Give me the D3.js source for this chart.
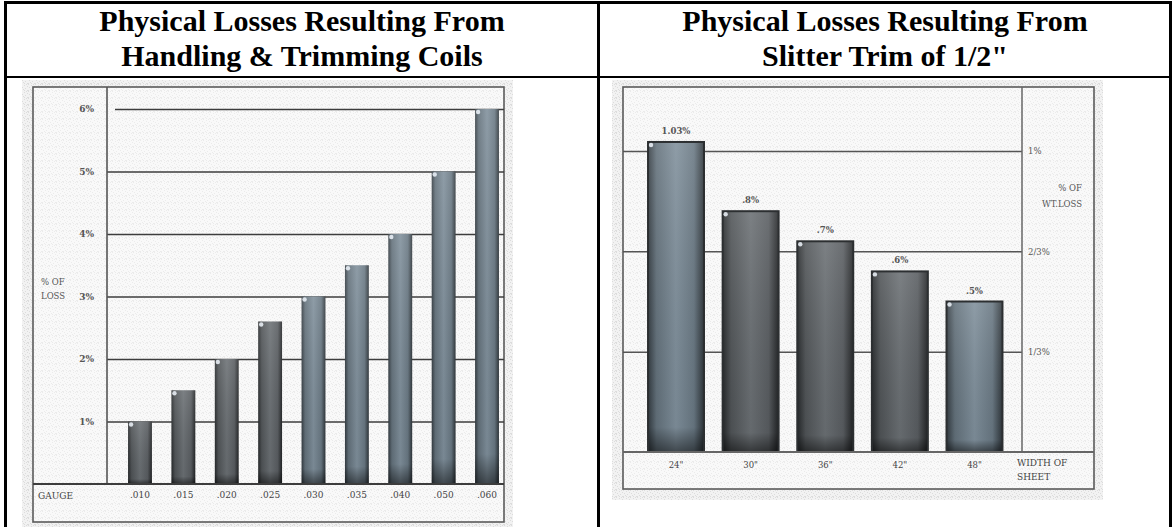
<!DOCTYPE html>
<html><head><meta charset="utf-8">
<script src="https://cdn.jsdelivr.net/npm/d3@7"></script>
<style>body{margin:0;background:#fff} svg{display:block}</style>
</head><body><svg id="c" width="1174" height="527"></svg>
<script>
// Handling & trimming coils: loss by gauge
const gauges = [".010", ".015", ".020", ".025", ".030", ".035", ".040", ".050", ".060"];
const gaugeLoss = [1, 1.5, 2, 2.6, 3, 3.5, 4, 5, 6];
const gaugeTicks = [1, 2, 3, 4, 5, 6];

// Slitter trim of 1/2": loss by sheet width
const widths = ['24"', '30"', '36"', '42"', '48"'];
const slitLoss = [1.03, 0.8, 0.7, 0.6, 0.5];
const slitLabels = ["1.03%", ".8%", ".7%", ".6%", ".5%"];
const slitTicks = [1 / 3, 2 / 3, 1];
const slitTickLabels = ["1/3%", "2/3%", "1%"];

// bar finish (steel grey or blue-grey)
const gaugeTone = ["g", "g", "g", "g", "b", "b", "b", "b", "b"];
const slitTone = ["b", "g", "g", "g", "b"];

const svg = d3.select("#c");
const defs = svg.append("defs");

// speckled paper texture
const speckle = [[0, 0], [3, 1], [5, 0], [1, 3], [4, 4], [2, 5], [6, 2], [6, 6], [0, 6], [3, 6]];
function dither(id, base, dot) {
  const p = defs.append("pattern").attr("id", id).attr("width", 7).attr("height", 7)
    .attr("patternUnits", "userSpaceOnUse");
  p.append("rect").attr("width", 7).attr("height", 7).attr("fill", base);
  speckle.forEach(([x, y]) =>
    p.append("rect").attr("x", x).attr("y", y).attr("width", 1).attr("height", 1).attr("fill", dot));
}
dither("outer", "#f2f2f2", "#dcdcdc");
dither("inner", "#f9f9f9", "#ebebeb");

function grad(id, stops) {
  const g = defs.append("linearGradient").attr("id", id).attr("x1", 0).attr("x2", 1).attr("y1", 0).attr("y2", 0);
  stops.forEach(([o, c]) => g.append("stop").attr("offset", o).attr("stop-color", c));
}
grad("bar-g", [[0, "#26292b"], [0.15, "#4f5356"], [0.5, "#6a6f73"], [0.82, "#585c60"], [1, "#222426"]]);
grad("bar-b", [[0, "#333b41"], [0.15, "#62707a"], [0.5, "#7f8f9b"], [0.82, "#687782"], [1, "#2e353a"]]);
const shade = defs.append("linearGradient").attr("id", "shade").attr("x1", 0).attr("x2", 0).attr("y1", 0).attr("y2", 1);
shade.append("stop").attr("offset", 0).attr("stop-color", "#fff").attr("stop-opacity", 0.12);
shade.append("stop").attr("offset", 0.92).attr("stop-color", "#000").attr("stop-opacity", 0.05);
shade.append("stop").attr("offset", 1).attr("stop-color", "#000").attr("stop-opacity", 0.5);

const serif = "'Liberation Serif', 'Times New Roman', serif";
const small = "'DejaVu Serif', 'Liberation Serif', serif";

// ---------- table frame and titles ----------
const frame = svg.append("g");
frame.append("rect").attr("x", 4).attr("y", 1).attr("width", 1168).attr("height", 3).attr("fill", "#000");
frame.append("rect").attr("x", 4).attr("y", 1).attr("width", 3).attr("height", 526).attr("fill", "#000");
frame.append("rect").attr("x", 597).attr("y", 1).attr("width", 3).attr("height", 526).attr("fill", "#000");
frame.append("rect").attr("x", 1169).attr("y", 1).attr("width", 3).attr("height", 526).attr("fill", "#000");
frame.append("rect").attr("x", 4).attr("y", 76).attr("width", 1168).attr("height", 2).attr("fill", "#000");

const titles = [
  { cx: 302, lines: ["Physical Losses Resulting From", "Handling & Trimming Coils"] },
  { cx: 885, lines: ["Physical Losses Resulting From", 'Slitter Trim of 1/2"'] }
];
titles.forEach(t => {
  t.lines.forEach((s, i) => {
    svg.append("text").attr("x", t.cx).attr("y", 31 + i * 35).attr("text-anchor", "middle")
      .attr("font-family", serif).attr("font-weight", "bold").attr("font-size", 30).attr("fill", "#000").text(s);
  });
});

function addBar(g, x, y, w, h, tone, bordered) {
  g.append("rect").attr("x", x).attr("y", y).attr("width", w).attr("height", h).attr("fill", `url(#bar-${tone})`);
  g.append("rect").attr("x", x).attr("y", y).attr("width", w).attr("height", h).attr("fill", "url(#shade)")
    .attr("stroke", bordered ? "#2c2f31" : "none").attr("stroke-width", bordered ? 2 : 0);
  g.append("circle").attr("cx", x + 3).attr("cy", y + 3).attr("r", 2.2).attr("fill", "#eef4fb").attr("opacity", 0.85);
}

// ---------- left chart ----------
{
  const g = svg.append("g");
  g.append("rect").attr("x", 22).attr("y", 80).attr("width", 491).attr("height", 447).attr("fill", "url(#outer)");
  const box = { l: 33, r: 504, t: 87, b: 522 };
  g.append("rect").attr("x", box.l).attr("y", box.t).attr("width", box.r - box.l).attr("height", box.b - box.t)
    .attr("fill", "url(#inner)").attr("stroke", "#5a5a5a").attr("stroke-width", 1.6);

  const y = d3.scaleLinear().domain([0, 6]).range([484, 109]);
  const x = d3.scaleBand().domain(gauges).range([118.3, 508.7]).paddingInner(0.45).paddingOuter(0.225);
  const axisX = 107;

  // gridlines + tick labels
  const yAxis = d3.axisLeft(y).tickValues(gaugeTicks).tickFormat(d => d + "%")
    .tickSize(-(box.r - axisX)).tickPadding(13);
  const ya = g.append("g").attr("transform", `translate(${axisX},0)`).call(yAxis);
  ya.select(".domain").remove();
  ya.selectAll(".tick line").attr("stroke", "#3d3d3d").attr("stroke-width", 1.5)
    .attr("x1", d => d === 6 ? 8 : 0);
  ya.selectAll(".tick text").attr("font-family", small).attr("font-size", 9).attr("font-weight", "bold")
    .attr("fill", "#555");

  g.append("line").attr("x1", axisX).attr("x2", axisX).attr("y1", box.t).attr("y2", 484)
    .attr("stroke", "#555").attr("stroke-width", 1.6);

  // bars
  gauges.forEach((k, i) => {
    const v = gaugeLoss[i];
    addBar(g, x(k), y(v), x.bandwidth(), y(0) - y(v), gaugeTone[i], false);
  });

  // baseline and category labels
  const xAxis = d3.axisBottom(x).tickSize(0).tickPadding(8);
  const xa = g.append("g").attr("transform", `translate(0,${y(0)})`).call(xAxis);
  xa.select(".domain").remove();
  xa.selectAll(".tick text").attr("font-family", small).attr("font-size", 9).attr("fill", "#444");
  g.append("line").attr("x1", box.l).attr("x2", box.r).attr("y1", y(0)).attr("y2", y(0))
    .attr("stroke", "#3d3d3d").attr("stroke-width", 2);

  g.append("text").attr("x", 38).attr("y", 499).attr("font-family", small).attr("font-size", 9)
    .attr("fill", "#444").text("GAUGE");
  g.append("text").attr("x", 41).attr("y", 285).attr("font-family", small).attr("font-size", 8.5)
    .attr("fill", "#555").text("% OF");
  g.append("text").attr("x", 41).attr("y", 299).attr("font-family", small).attr("font-size", 8.5)
    .attr("fill", "#555").text("LOSS");
}

// ---------- right chart ----------
{
  const g = svg.append("g");
  g.append("rect").attr("x", 612).attr("y", 80).attr("width", 491).attr("height", 420).attr("fill", "url(#outer)");
  const box = { l: 623, r: 1094, t: 87, b: 489 };
  g.append("rect").attr("x", box.l).attr("y", box.t).attr("width", box.r - box.l).attr("height", box.b - box.t)
    .attr("fill", "url(#inner)").attr("stroke", "#5a5a5a").attr("stroke-width", 1.6);

  const y = d3.scaleLinear().domain([0, 1]).range([452, 151]);
  const x = d3.scaleBand().domain(widths).range([638.7, 1011.8]).paddingInner(0.25).paddingOuter(0.125);
  const axisX = 1022;

  const yAxis = d3.axisRight(y).tickValues(slitTicks).tickFormat((d, i) => slitTickLabels[i])
    .tickSize(-(axisX - box.l)).tickPadding(6);
  const ya = g.append("g").attr("transform", `translate(${axisX},0)`).call(yAxis);
  ya.select(".domain").remove();
  ya.selectAll(".tick line").attr("stroke", "#555").attr("stroke-width", 1.5);
  ya.selectAll(".tick text").attr("font-family", small).attr("font-size", 8.5).attr("fill", "#555");

  g.append("line").attr("x1", axisX).attr("x2", axisX).attr("y1", box.t).attr("y2", y(0))
    .attr("stroke", "#666").attr("stroke-width", 1.5);

  widths.forEach((k, i) => {
    const v = slitLoss[i];
    addBar(g, x(k), y(v), x.bandwidth(), y(0) - y(v), slitTone[i], true);
    g.append("text").attr("x", x(k) + x.bandwidth() / 2).attr("y", y(v) - 8).attr("text-anchor", "middle")
      .attr("font-family", small).attr("font-size", 8.5).attr("font-weight", "bold").attr("fill", "#555")
      .text(slitLabels[i]);
  });

  const xAxis = d3.axisBottom(x).tickSize(0).tickPadding(10);
  const xa = g.append("g").attr("transform", `translate(0,${y(0)})`).call(xAxis);
  xa.select(".domain").remove();
  xa.selectAll(".tick text").attr("font-family", small).attr("font-size", 8.5).attr("fill", "#444");
  g.append("line").attr("x1", box.l).attr("x2", box.r).attr("y1", y(0)).attr("y2", y(0))
    .attr("stroke", "#666").attr("stroke-width", 2);

  g.append("text").attr("x", 1082).attr("y", 191).attr("text-anchor", "end").attr("font-family", small)
    .attr("font-size", 8.5).attr("fill", "#555").text("% OF");
  g.append("text").attr("x", 1082).attr("y", 207).attr("text-anchor", "end").attr("font-family", small)
    .attr("font-size", 8.5).attr("fill", "#555").text("WT.LOSS");
  g.append("text").attr("x", 1017).attr("y", 466).attr("font-family", small).attr("font-size", 9)
    .attr("fill", "#444").text("WIDTH OF");
  g.append("text").attr("x", 1017).attr("y", 480).attr("font-family", small).attr("font-size", 9)
    .attr("fill", "#444").text("SHEET");
}
</script>
</body></html>
